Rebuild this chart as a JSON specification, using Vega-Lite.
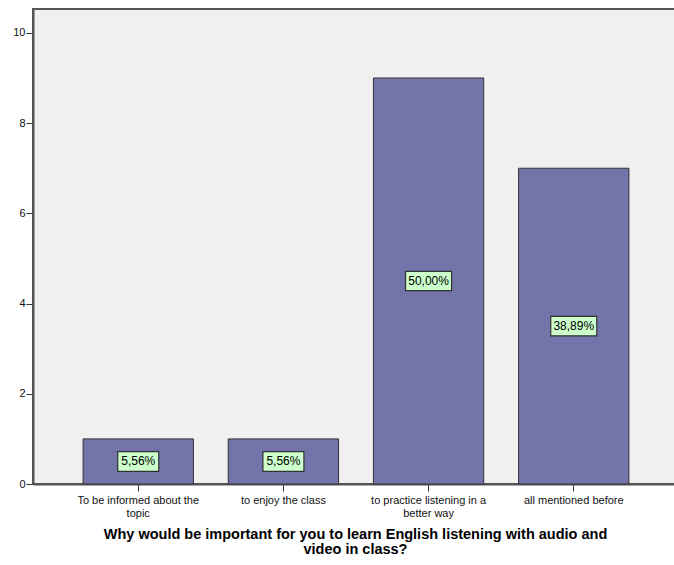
{
  "$schema": "https://vega.github.io/schema/vega-lite/v6.json",
  "autosize": "none",
  "width": 646,
  "height": 475,
  "padding": {"left": 33, "top": 9, "right": -5, "bottom": 81},
  "background": "white",
  "config": {
    "view": {"fill": "#f0f0f0", "stroke": "#555555", "strokeWidth": 2},
    "font": "Liberation Sans",
    "axis": {"grid": false, "domainColor": "#555555", "domainWidth": 2, "tickColor": "#333333", "labelColor": "#111111", "labelFontSize": 11, "labelFont": "Liberation Sans"}
  },
  "data": {
    "values": [
      {"reason": "To be informed about the|topic", "count": 1, "label": "5,56%"},
      {"reason": "to enjoy the class", "count": 1, "label": "5,56%"},
      {"reason": "to practice listening in a|better way", "count": 9, "label": "50,00%"},
      {"reason": "all mentioned before", "count": 7, "label": "38,89%"}
    ]
  },
  "encoding": {
    "x": {
      "field": "reason",
      "type": "nominal",
      "sort": null,
      "scale": {"paddingInner": 0.24, "paddingOuter": 0.345},
      "axis": {
        "labelAngle": 0,
        "labelExpr": "split(datum.label, '|')",
        "labelLimit": 300,
        "labelLineHeight": 13,
        "labelPadding": 3,
        "tickSize": 7,
        "labelBaseline": "top",
        "title": ["Why would be important for you to learn English listening with audio and", "video in class?"],
        "titleFontSize": 14.5,
        "titleFontWeight": "bold",
        "titleFont": "Liberation Sans",
        "titleColor": "#000000",
        "titleLineHeight": 15,
        "titlePadding": 9,
        "titleX": 322
      }
    }
  },
  "layer": [
    {
      "mark": {"type": "bar", "fill": "#7274aa", "stroke": "#333333", "strokeWidth": 1},
      "encoding": {
        "y": {
          "field": "count",
          "type": "quantitative",
          "scale": {"domain": [0, 10.53], "nice": false},
          "axis": {"values": [0, 2, 4, 6, 8, 10], "title": null, "tickSize": 7, "labelPadding": 1}
        }
      }
    },
    {
      "mark": {"type": "point", "filled": true, "fill": "#ccffcc", "stroke": "#333333", "strokeWidth": 1.2, "opacity": 1},
      "encoding": {
        "y": {"field": "count", "type": "quantitative", "scale": {"domain": [0, 21.06], "nice": false}, "axis": null},
        "size": {"condition": {"test": "length(datum.label) > 5", "value": 2116}, "value": 1681},
        "shape": {"condition": {"test": "length(datum.label) > 5", "value": "M-1,-0.42H1V0.42H-1Z"}, "value": "M-1,-0.48H1V0.48H-1Z"}
      }
    },
    {
      "mark": {"type": "text", "fontSize": 12, "color": "#000000", "font": "Liberation Sans"},
      "encoding": {
        "y": {"field": "count", "type": "quantitative", "scale": {"domain": [0, 21.06], "nice": false}, "axis": null},
        "text": {"field": "label"}
      }
    }
  ],
  "resolve": {"scale": {"y": "independent"}}
}
